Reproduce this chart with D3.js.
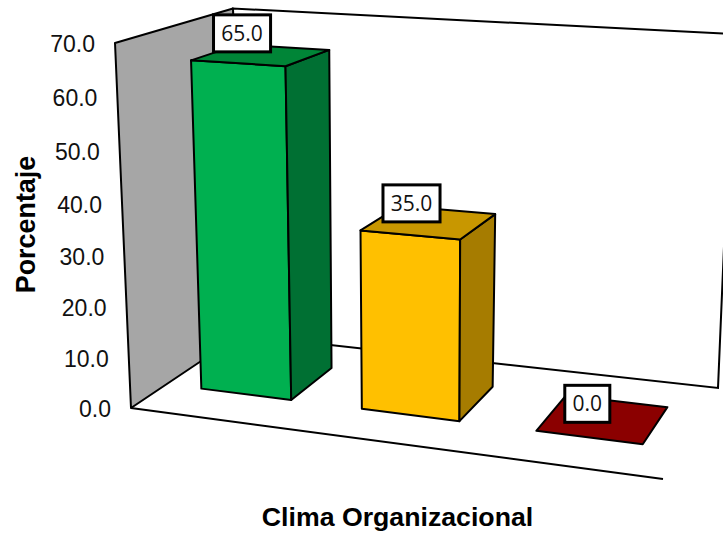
<!DOCTYPE html>
<html>
<head>
<meta charset="utf-8">
<script src="https://cdn.jsdelivr.net/npm/d3@7/dist/d3.min.js"></script>
<style>
  html, body { margin: 0; padding: 0; background: #fff; }
  svg { display: block; }
</style>
</head>
<body>
<div id="chart"></div>
<script>
// Data
const categories = ["Bajo", "Medio", "Alto"];
const values = [65.0, 35.0, 0.0];
const yTicks = [0, 10, 20, 30, 40, 50, 60, 70];
const yDomain = [0, 70];

// Face colours per bar
const frontColors = ["#00b050", "#ffc000", "#8b0000"];
const sideColors = ["#007033", "#a67c00", "#6b0000"];
const topColors = ["#008537", "#c89700", "#8b0000"];

const width = 723, height = 535;
const svg = d3.select("#chart").append("svg")
  .attr("width", width).attr("height", height);

// Corners of the 3D box as seen by the camera
const floorQuad = [[131, 408], [663, 479], [718, 388], [240, 335]];
const ceilQuad = [[115, 43], [668, 76], [733, 34], [233, 8.5]];

// Unit square to quadrilateral homography
function homography(q) {
  const [[x0, y0], [x1, y1], [x2, y2], [x3, y3]] = q;
  const dx1 = x1 - x2, dx2 = x3 - x2, sx = x0 - x1 + x2 - x3;
  const dy1 = y1 - y2, dy2 = y3 - y2, sy = y0 - y1 + y2 - y3;
  const den = dx1 * dy2 - dx2 * dy1;
  const g = (sx * dy2 - dx2 * sy) / den;
  const h = (dx1 * sy - sx * dy1) / den;
  const a = x1 - x0 + g * x1, b = x3 - x0 + h * x3;
  const d = y1 - y0 + g * y1, e = y3 - y0 + h * y3;
  return (u, v) => {
    const w = g * u + h * v + 1;
    return [(a * u + b * v + x0) / w, (d * u + e * v + y0) / w];
  };
}
const floorAt = homography(floorQuad);
const ceilAt = homography(ceilQuad);

// Scales in box space: width, depth and height all run from 0 to 1
const xBand = d3.scaleBand().domain(categories).range([0.0045, 1.0055])
  .paddingInner(0.43).paddingOuter(0.215);
const zBand = d3.scaleBand().domain(["serie"]).range([0.008, 1.008]).padding(0.412);
const yScale = d3.scaleLinear().domain(yDomain).range([0, 1]);

// Foreshortening along the height of the box
const foreshorten = t => t * 0.955 / (1 - 0.045 * t);

function project(u, v, value) {
  const t = foreshorten(yScale(value));
  const p0 = floorAt(u, v), p1 = ceilAt(u, v);
  return [p0[0] + (p1[0] - p0[0]) * t, p0[1] + (p1[1] - p0[1]) * t];
}

const line = pts => "M" + pts.map(p => p[0].toFixed(2) + "," + p[1].toFixed(2)).join("L") + "Z";
const STROKE = 2;

// Back wall
svg.append("path")
  .attr("d", line([project(0, 1, 0), project(1, 1, 0), project(1, 1, 70), project(0, 1, 70)]))
  .attr("fill", "#fff").attr("stroke", "#000").attr("stroke-width", STROKE);

// Side wall
svg.append("path")
  .attr("d", line([project(0, 0, 0), project(0, 1, 0), project(0, 1, 70), project(0, 0, 70)]))
  .attr("fill", "#a6a6a6").attr("stroke", "#000").attr("stroke-width", STROKE).attr("stroke-linejoin", "round");

// Front edge of the floor
svg.append("line")
  .attr("x1", floorQuad[0][0]).attr("y1", floorQuad[0][1])
  .attr("x2", floorQuad[1][0]).attr("y2", floorQuad[1][1])
  .attr("stroke", "#000").attr("stroke-width", STROKE);

// Bars
const bars = svg.selectAll("g.bar").data(categories).join("g").attr("class", "bar");
bars.each(function (c, i) {
  const g = d3.select(this);
  const v = values[i];
  const u0 = xBand(c), u1 = u0 + xBand.bandwidth();
  const z0 = zBand("serie"), z1 = z0 + zBand.bandwidth();
  const faces = [
    { fill: frontColors[i], pts: [project(u0, z0, 0), project(u1, z0, 0), project(u1, z0, v), project(u0, z0, v)] },
    { fill: sideColors[i], pts: [project(u1, z0, 0), project(u1, z1, 0), project(u1, z1, v), project(u1, z0, v)] },
    { fill: topColors[i], pts: [project(u0, z0, v), project(u1, z0, v), project(u1, z1, v), project(u0, z1, v)] }
  ];
  // A zero-height bar collapses to its top face
  (v > 0 ? faces : faces.slice(2)).forEach(f => {
    g.append("path").attr("d", line(f.pts))
      .attr("fill", f.fill).attr("stroke", "#000")
      .attr("stroke-width", STROKE).attr("stroke-linejoin", "round");
  });
});

// Value labels in white boxes
const labelFont = "'Open Sans', sans-serif";
categories.forEach((c, i) => {
  const v = values[i];
  const corner = project(xBand(c), zBand("serie"), v);
  const cx = corner[0] + 51, cy = corner[1] - 27;
  const g = svg.append("g").attr("class", "value-label");
  const txt = g.append("text")
    .attr("x", cx).attr("y", cy).attr("dy", "0.36em")
    .attr("text-anchor", "middle")
    .attr("font-family", labelFont).attr("font-size", 21).attr("fill", "#111")
    .text(d3.format(".1f")(v));
  const w = txt.node().getComputedTextLength() + 15.5;
  g.insert("rect", "text")
    .attr("x", cx - w / 2).attr("y", cy - 18.5)
    .attr("width", w).attr("height", 37)
    .attr("fill", "#fff").attr("stroke", "#000").attr("stroke-width", 3);
});

// Height axis labels follow the leaning front edge of the side wall
svg.selectAll("text.tick").data(yTicks).join("text")
  .attr("class", "tick")
  .attr("x", d => project(0, 0, d)[0] - 20)
  .attr("y", d => project(0, 0, d)[1] + 0.8)
  .attr("dy", "0.36em")
  .attr("text-anchor", "end")
  .attr("font-family", "'Liberation Sans', Arial, sans-serif")
  .attr("font-size", 23).attr("fill", "#111")
  .text(d => d3.format(".1f")(d));

// Axis titles
svg.append("text")
  .attr("x", 397.5).attr("y", 526)
  .attr("text-anchor", "middle")
  .attr("font-family", "'Liberation Sans', Arial, sans-serif")
  .attr("font-weight", "bold").attr("font-size", 26.7).attr("fill", "#000")
  .text("Clima Organizacional");

svg.append("text")
  .attr("transform", "translate(35,224.5) rotate(-90)")
  .attr("text-anchor", "middle")
  .attr("font-family", "'Liberation Sans', Arial, sans-serif")
  .attr("font-weight", "bold").attr("font-size", 26.9).attr("fill", "#000")
  .text("Porcentaje");
</script>
</body>
</html>
